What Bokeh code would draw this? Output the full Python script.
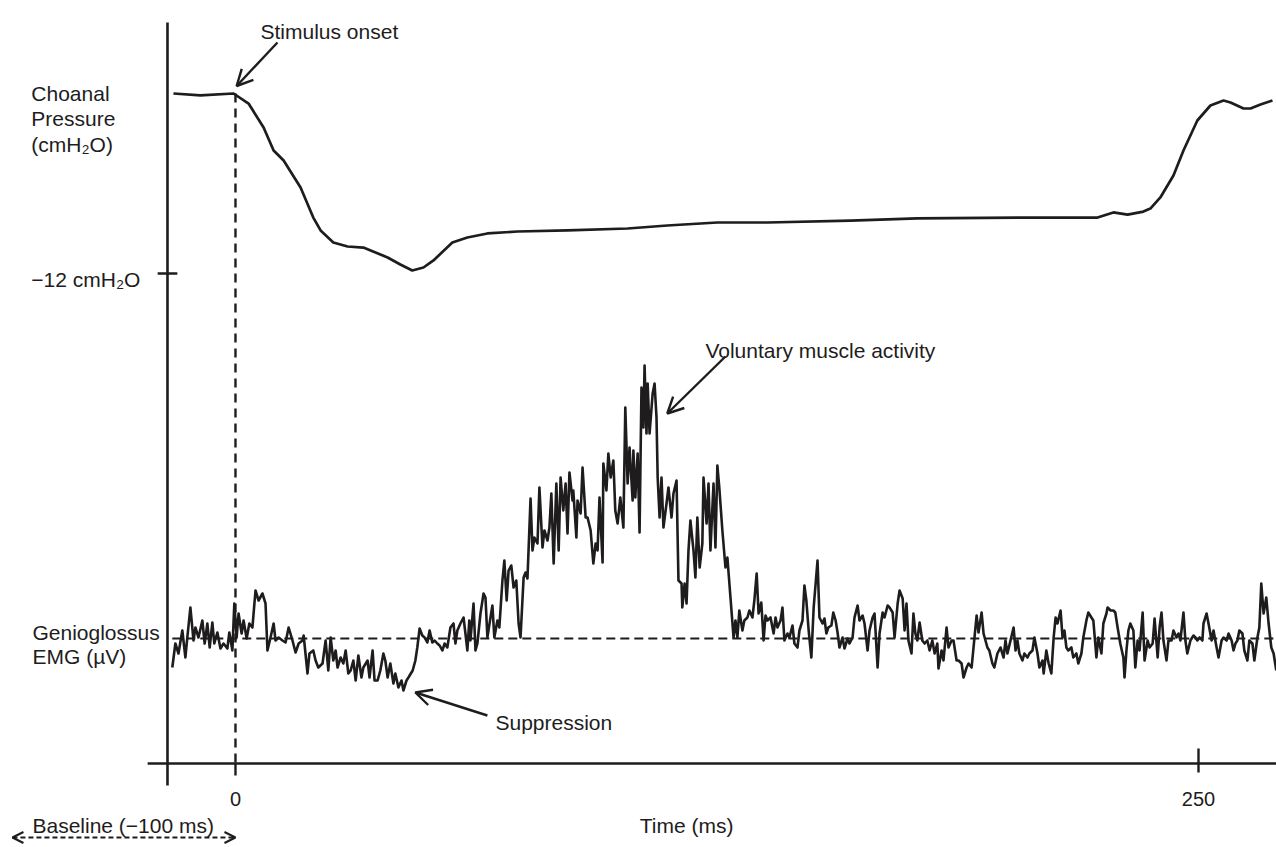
from bokeh.plotting import figure
from bokeh.models import Range1d, Label, Arrow, OpenHead
from bokeh.core.properties import value
from bokeh.embed import file_html
from bokeh.resources import INLINE

# ---------------- data ----------------
# Choanal pressure trace: time (ms) and pressure (cmH2O, 0 = pre-stimulus level)
press_t = [-16.1, -9.1, -0.5, 3.4, 7.3, 9.9, 12.5, 16.9, 20.2, 22.1, 25.4, 29.1, 33.2,
           39.5, 42.8, 45.9, 48.8, 51.4, 56.3, 60.2, 65.4, 73.2, 86.2, 101.8, 112.1,
           125.1, 138.1, 159.7, 177.0, 203.0, 223.8, 227.9, 231.6, 235.7, 237.5, 240.1,
           243.5, 246.1, 249.7, 253.1, 256.5, 258.3, 261.7, 263.5, 266.1, 269.2]
press_v = [0.0, -0.13, 0.0, -0.67, -2.27, -3.8, -4.47, -6.27, -8.27, -9.13, -9.93, -10.2,
           -10.27, -10.93, -11.4, -11.8, -11.6, -11.13, -9.93, -9.6, -9.33, -9.2, -9.13,
           -9.0, -8.8, -8.6, -8.6, -8.47, -8.33, -8.27, -8.27, -7.93, -8.07, -7.87, -7.67,
           -6.93, -5.47, -3.8, -1.8, -0.8, -0.47, -0.6, -1.0, -1.0, -0.73, -0.47]

# Genioglossus EMG trace: time (ms) and amplitude (relative units, 0 = baseline)
emg_t_baseline = [
    -16.4, -15.6, -14.8, -13.8, -13.0, -12.5, -11.7, -10.9, -10.4, -9.6,
    -8.6, -8.0, -7.3, -6.7, -6.0, -5.5, -4.7, -3.9, -3.1, -2.1,
    -1.6, -0.8, -0.3, 0.3, 0.8, 1.6, 2.1, 2.9, 3.6, 4.4,
    5.2, 6.0, 7.0, 7.8, 8.3, 9.1, 9.9, 10.4, 11.2, 12.2,
    13.0, 13.8, 14.8, 15.6, 16.4, 17.4, 17.7, 18.7, 19.2, 20.2,
    20.8, 21.5, 22.6, 23.4, 24.1, 24.7, 25.4, 26.0, 26.5, 27.3,
    28.0, 28.6, 29.3, 29.9, 30.6, 31.2, 31.9, 32.7, 33.2, 34.3,
    34.8, 35.6, 36.1, 36.9, 37.6, 38.4, 38.9, 39.5, 40.2, 41.0,
    41.5, 42.3, 43.1, 43.6, 44.4, 44.9, 46.0, 46.7, 47.2, 47.8,
    48.5, 49.1, 49.8, 50.4, 51.1, 51.7, 52.4, 53.0, 53.7, 54.3,
    55.0, 55.8, 56.6, 57.1, 57.6, 58.4, 59.2, 59.7, 60.2, 60.7]
emg_v_baseline = [
    -2.9, -0.5, -1.5, 0.8, -1.9, 0.1, 3.1, -0.2, 1.1, 0.1,
    1.8, -0.5, 1.5, -0.9, 1.6, -0.5, 0.6, -1.0, -0.5, -1.0,
    0.6, -1.2, 3.5, 0.1, 2.5, 0.5, 1.8, 0.0, 1.5, 1.1,
    4.8, 3.8, 4.5, 3.5, -1.2, 0.1, 1.5, -0.2, 0.1, -0.2,
    -0.4, 1.1, -0.2, -1.4, -0.5, -0.2, 0.3, -3.5, -1.5, -1.2,
    -2.2, -2.9, -2.5, -0.2, -3.2, 0.1, -2.2, -1.2, -2.9, -1.9,
    -2.5, -1.2, -3.5, -3.2, -2.2, -4.2, -1.7, -3.9, -2.9, -2.2,
    -3.9, -1.2, -4.2, -4.2, -3.2, -1.5, -2.2, -3.9, -2.5, -4.5,
    -3.5, -4.9, -4.2, -5.2, -4.2, -3.9, -3.2, -2.2, -0.9, 1.0,
    0.3, 0.1, -0.4, 0.8, -0.4, -0.2, -0.5, -0.7, -1.2, -0.5,
    -0.9, 1.1, 1.5, -0.5, 0.8, 1.5, 2.1, 0.5, -1.2, 1.8]

emg_t_burst = [
    61.0, 61.8, 62.3, 62.8, 63.6, 64.4, 64.9, 65.4, 66.2, 66.7,
    67.2, 68.0, 68.5, 69.3, 69.8, 70.4, 70.9, 71.6, 72.2, 72.9,
    73.5, 74.0, 74.8, 75.3, 75.8, 76.6, 77.1, 77.6, 78.4, 78.9,
    79.7, 80.2, 81.0, 81.5, 82.0, 82.6, 83.3, 83.9, 84.4, 85.1,
    85.7, 86.2, 86.7, 87.5, 87.7, 88.5, 88.8, 89.6, 90.1, 90.9,
    91.4, 92.2, 92.9, 93.5, 94.0, 94.5, 95.3, 95.5, 96.3, 96.8,
    97.4, 98.1, 98.6, 99.2, 99.9, 100.7, 101.2, 101.8, 102.3, 103.1,
    103.3, 103.8, 104.4, 104.9, 105.4, 105.9, 106.2, 106.7, 107.0, 107.5,
    108.3, 108.8, 109.3, 109.6, 110.1, 110.6, 111.1, 111.9, 112.4, 113.2,
    113.7, 114.5, 115.0, 115.8, 116.0, 116.6, 117.1, 117.6, 118.1, 118.9,
    119.4, 119.9, 120.5, 121.2, 121.5, 122.3, 122.8, 123.3, 124.1, 124.6,
    125.1, 125.6, 126.4]
emg_v_burst = [
    -0.2, 3.5, -1.2, -0.5, 2.5, 4.5, 4.1, 0.1, 2.1, 3.3,
    0.1, 1.8, 1.1, 5.8, 7.8, 3.8, 6.8, 7.3, 5.1, 5.8,
    1.5, 0.1, 6.1, 6.6, 6.0, 14.0, 8.8, 10.1, 9.5, 15.1,
    9.1, 10.8, 9.8, 11.1, 14.5, 7.5, 15.5, 8.8, 16.1, 12.8,
    15.5, 10.5, 16.6, 13.8, 14.8, 10.1, 13.8, 12.5, 17.1, 12.1,
    12.1, 10.8, 7.5, 9.5, 8.8, 14.1, 7.6, 17.5, 14.8, 18.5,
    16.1, 17.8, 12.8, 11.5, 14.1, 11.1, 23.1, 15.5, 19.1, 13.8,
    18.8, 14.1, 18.5, 10.6, 25.1, 21.1, 27.3, 20.5, 25.5, 20.5,
    24.5, 25.5, 22.1, 16.1, 12.1, 16.1, 11.1, 13.5, 15.1, 12.1,
    14.5, 15.8, 5.8, 5.5, 3.1, 5.5, 3.5, 8.8, 11.8, 8.8,
    6.1, 12.1, 7.1, 9.5, 16.1, 11.5, 15.5, 8.8, 15.5, 9.1,
    17.3, 15.1, 10.8]

emg_t_late = [
    127.2, 127.7, 128.5, 129.3, 129.8, 130.3, 130.8, 131.6, 132.1, 132.9,
    133.4, 134.2, 134.7, 135.3, 135.8, 136.5, 137.1, 137.6, 138.1, 138.9,
    139.7, 140.2, 140.7, 141.5, 142.0, 142.5, 143.3, 143.8, 144.6, 145.1,
    145.9, 146.4, 147.2, 147.7, 148.2, 148.8, 149.5, 150.1, 151.1, 151.6,
    152.4, 152.9, 153.4, 153.9, 154.7, 155.2, 155.8, 156.3, 156.8, 157.6,
    158.1, 158.9, 159.4, 160.2, 160.7, 161.5, 162.0, 162.8, 163.3, 164.1,
    164.6, 165.4, 165.9, 166.7, 167.2, 168.0, 168.5, 169.3, 169.8, 170.6,
    171.1, 171.9, 172.4, 173.2, 173.7, 174.2, 174.7, 175.5, 176.0, 176.5,
    177.0, 177.6, 178.3, 178.9, 179.6, 180.2, 180.9, 181.5, 182.2, 182.5,
    183.3, 183.8, 184.6, 185.1, 185.9, 186.4, 187.2, 187.7, 188.5, 189.0,
    189.8, 190.3, 191.1, 191.6, 192.4, 192.9, 193.7, 194.2, 195.2, 195.7,
    196.5, 197.0, 197.8,
    198.6, 199.4, 199.9, 200.4, 201.2, 202.0, 202.5, 203.0, 203.5, 204.3,
    204.8, 205.6, 206.1, 206.9, 207.4, 208.2, 208.7, 209.5, 209.8, 210.5,
    211.1, 211.8, 212.4, 212.9, 213.4, 214.2, 214.7, 215.2, 215.7, 216.2,
    217.0, 217.5, 218.3, 218.8, 219.6, 220.1, 220.9, 221.4, 222.2, 222.7,
    223.5, 224.0, 224.8, 225.3, 226.1, 226.4, 227.2, 227.9, 228.4, 229.0,
    229.7, 230.5, 230.8, 231.3, 231.8, 232.3, 233.1, 233.6, 234.2, 234.7,
    235.5, 236.0, 236.8, 237.3, 238.1, 238.6, 239.4, 239.9, 240.4, 240.9,
    241.7, 242.2, 243.0, 243.5, 244.3, 244.8, 245.3, 246.1, 246.6, 247.1,
    247.9, 248.7, 249.2, 249.7, 250.3, 251.0, 251.3, 252.1, 252.6, 253.4,
    253.9, 254.7, 255.2, 256.0, 256.5, 257.3, 257.8, 258.6, 259.1, 259.6,
    260.1, 260.6, 261.4, 261.9, 262.7, 263.2, 264.0, 264.5, 265.3, 265.8,
    266.3, 266.9, 267.6, 268.2, 268.9, 269.5, 270.2]
emg_v_late = [
    7.1, 8.1, 4.1, 0.1, 1.8, 0.1, 2.8, 0.8, 1.8, 2.1,
    2.8, 2.1, 3.8, 6.5, 2.5, 3.6, -0.2, 2.3, 1.8, 2.1,
    0.5, 2.1, 1.1, 1.8, 3.1, -0.2, 0.5, 0.1, 1.3, -0.5,
    -0.9, 0.8, 1.8, 5.3, 3.8, 0.8, -1.9, 3.1, 7.8, 2.1,
    1.5, 2.0, 0.5, 1.1, 1.3, 2.6, 1.8, 0.6, -0.9, 0.1,
    -1.0, 0.0, -0.5, 0.1, 2.1, 3.3, 1.8, 2.3, 1.5, -1.2,
    0.8, 2.1, 2.5, -2.9, 0.5, 2.6, 2.1, 3.3, 3.1, 2.6,
    0.1, 3.5, 4.8, 4.0, 0.8, 3.5, -0.2, -1.5, 2.5, 0.5,
    -0.2, 1.6, -0.2, -0.5, -0.2, -1.2, -0.2, -1.5, -0.5, -3.0,
    -1.2, -2.2, 1.1, -0.9, -0.2, -0.2, -2.2, -2.2, -2.5, -3.9,
    -2.9, -2.5, -2.9, -0.9, 2.3, 0.6, 2.6, 0.5, -0.9, -1.2,
    -2.5, -2.9, -1.5,
    -0.9, -1.9, -0.2, -1.5, -0.2, 1.1, -1.2, -0.2, -1.5, -2.2,
    -1.5, -1.9, -1.5, -1.2, 0.1, -1.5, -2.9, -2.2, -3.5, -1.2,
    -2.5, -3.5, 0.1, 2.1, 1.5, 2.8, 0.1, 0.8, -0.9, -1.2,
    -0.9, -1.9, -1.5, -2.5, -1.5, 0.1, 1.8, 2.6, 2.1, 1.8,
    -1.9, 0.1, -1.5, 1.5, 2.5, 3.1, 2.8, 2.8, 2.6, 1.1,
    -0.5, -1.9, -3.9, -1.2, 0.8, 1.5, 0.8, -2.9, -0.2, -1.2,
    2.6, -2.2, -0.2, -0.9, -0.5, 2.0, -1.9, 1.1, 2.6, -0.2,
    -2.2, -0.2, -0.2, 0.8, 0.1, 0.5, -0.2, 2.6, -0.2, -1.5,
    -0.2, 0.3, 0.1, -0.2, 0.1, -0.2, 1.5, 2.5, 1.5, -0.2,
    0.8, -0.9, -1.9, -0.2, 0.1, -0.2, 0.5, -0.2, -1.2, -0.5,
    -0.2, 0.8, 0.5, -1.2, -2.2, -0.2, -0.5, -2.2, 0.1, 1.1,
    5.5, 2.5, 4.1, 1.5, -0.9, -1.5, -3.2]

emg_t = emg_t_baseline + emg_t_burst + emg_t_late
emg_v = emg_v_baseline + emg_v_burst + emg_v_late

time_ticks = [0, 250]
time_tick_labels = ["0", "250"]
pressure_tick = -12
pressure_tick_label = "\u221212 cmH\u2082O"

# ---------------- figure ----------------
INK = "#1e1c1d"
FONT = "Liberation Sans"
FS = "21px"

p = figure(width=1276, height=847, output_backend="svg", toolbar_location=None,
           x_range=Range1d(-61.0, 270.25), y_range=Range1d(-50.267, 6.2),
           x_axis_type=None, y_axis_type=None, min_border=0)
p.extra_y_ranges = {"emg": Range1d(-20.9, 63.8)}
p.grid.visible = False
p.outline_line_color = None
p.background_fill_color = "white"
p.border_fill_color = "white"

# axes drawn as plain lines
p.segment(x0=[-17.65], y0=[4.73], x1=[-17.65], y1=[-46.13], line_color=INK, line_width=2.6)
p.segment(x0=[-22.8], y0=[-12.5], x1=[270.3], y1=[-12.5], y_range_name="emg",
          line_color=INK, line_width=2.6)
p.segment(x0=time_ticks, y0=[-12.5, -11.0], x1=time_ticks, y1=[-13.7, -13.4],
          y_range_name="emg", line_color=INK, line_width=2.4)
p.segment(x0=[-20.2], y0=[pressure_tick], x1=[-15.1], y1=[pressure_tick],
          line_color=INK, line_width=2.4)

# reference lines
p.segment(x0=[0], y0=[0], x1=[0], y1=[-44.67], line_color=INK, line_width=2.4,
          line_dash="9 6")
p.segment(x0=[-16.4], y0=[0], x1=[270.3], y1=[0], y_range_name="emg",
          line_color=INK, line_width=2.2, line_dash="9 5")

# traces
p.line(press_t, press_v, line_color=INK, line_width=2.7, line_join="round")
p.line(emg_t, emg_v, y_range_name="emg", line_color=INK, line_width=2.6, line_join="round")

# tick labels
p.text(x=time_ticks, y=[-16.0, -16.0], text=time_tick_labels, y_range_name="emg",
       text_align="center", text_baseline="alphabetic", text_color=INK,
       text_font=value(FONT), text_font_size="20px")


def lab(x, y, txt, rng="default", align="left", size=FS):
    p.add_layout(Label(x=x, y=y, text=txt, y_range_name=rng, text_align=align,
                       text_baseline="alphabetic", text_color=INK, text_font=FONT,
                       text_font_size=size))


lab(6.5, 4.13, "Stimulus onset")
lab(-53.0, 0.0, "Choanal")
lab(-53.0, -1.67, "Pressure")
lab(-53.0, -3.4, "(cmH\u2082O)")
lab(-53.0, -12.4, pressure_tick_label)
lab(-52.7, 0.6, "Genioglossus", "emg")
lab(-52.7, -1.8, "EMG (\u00b5V)", "emg")
lab(122.0, 28.8, "Voluntary muscle activity", "emg")
lab(67.5, -8.4, "Suppression", "emg")
lab(117.1, -18.7, "Time (ms)", "emg", align="center")
lab(-52.7, -18.7, "Baseline (\u2212100 ms)", "emg")


def head(size=16, lw=2.4):
    return OpenHead(size=size, line_color=INK, line_width=lw)


p.add_layout(Arrow(end=head(), x_start=10.9, y_start=3.4, x_end=0.3, y_end=0.5,
                   line_color=INK, line_width=2.4))
p.add_layout(Arrow(end=head(), x_start=127.2, y_start=28.2, x_end=112.1, y_end=22.5,
                   y_range_name="emg", line_color=INK, line_width=2.4))
p.add_layout(Arrow(end=head(), x_start=65.4, y_start=-7.7, x_end=46.7, y_end=-5.4,
                   y_range_name="emg", line_color=INK, line_width=2.4))
p.add_layout(Arrow(start=head(11, 2), end=head(11, 2), x_start=-57.9, y_start=-19.9,
                   x_end=0.0, y_end=-19.9, y_range_name="emg", line_color=INK,
                   line_width=2.0, line_dash="5 3"))

open("out.html", "w").write(file_html(p, INLINE))
